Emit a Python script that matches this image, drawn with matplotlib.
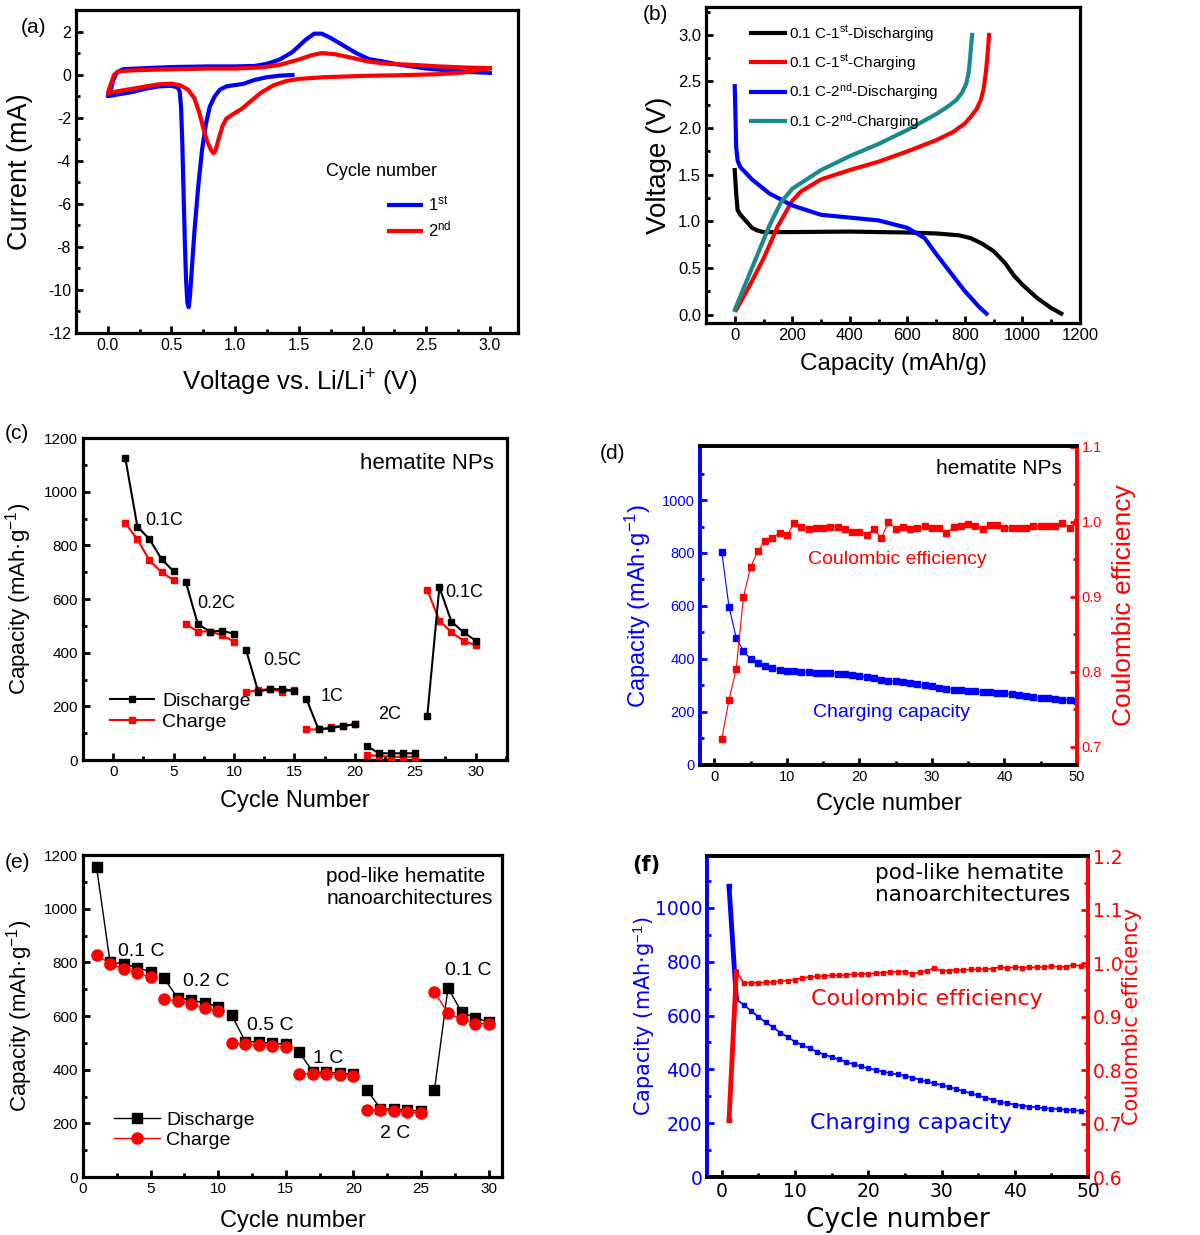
import numpy as np
import matplotlib
matplotlib.use("Agg")
import matplotlib.pyplot as plt
from matplotlib.ticker import MultipleLocator, FormatStrFormatter

plt.rcParams['font.family'] = ['Liberation Sans', 'DejaVu Sans']
plt.rcParams['mathtext.fontset'] = 'custom'
plt.rcParams['mathtext.rm'] = 'Liberation Sans'
plt.rcParams['mathtext.it'] = 'Liberation Sans:italic'
plt.rcParams['mathtext.bf'] = 'Liberation Sans:bold'
plt.rcParams['axes.unicode_minus'] = False

# ---- (a) cyclic voltammetry ----
cv1_v = [1.45, 1.35, 1.25, 1.15, 1.07, 1.02, 0.98, 0.93, 0.88, 0.84, 0.80, 0.77, 0.74, 0.71,
         0.68, 0.66, 0.645, 0.635, 0.625, 0.615, 0.605, 0.595, 0.585, 0.575, 0.565, 0.55, 0.5,
         0.4, 0.3, 0.2, 0.1, 0.0,
         0.02, 0.04, 0.07, 0.12, 0.3, 0.5, 0.8, 1.0, 1.15, 1.25, 1.35, 1.45, 1.55, 1.62, 1.68,
         1.75, 1.85, 1.95, 2.05, 2.15, 2.3, 2.5, 2.7, 2.85, 3.0]
cv1_i = [-0.02, -0.05, -0.12, -0.25, -0.42, -0.47, -0.5, -0.55, -0.7, -1.0, -1.5, -2.3, -3.5, -5.2,
         -7.3, -9.0, -10.3, -10.8, -10.6, -9.6, -7.8, -5.5, -3.2, -1.5, -0.8, -0.6, -0.52,
         -0.55, -0.65, -0.8, -0.9, -1.0,
         -0.8, -0.3, 0.1, 0.25, 0.3, 0.35, 0.38, 0.38, 0.4, 0.5, 0.7, 1.05, 1.6, 1.9, 1.9,
         1.7, 1.35, 1.0, 0.72, 0.62, 0.45, 0.28, 0.18, 0.12, 0.08]
cv2_v = [3.0, 2.8, 2.6, 2.3, 2.0, 1.7, 1.5, 1.4, 1.3, 1.2, 1.12, 1.05, 0.98, 0.93, 0.9, 0.87,
         0.845, 0.83, 0.81, 0.78, 0.75, 0.72, 0.68, 0.63, 0.57, 0.5, 0.4, 0.3, 0.2, 0.1, 0.0,
         0.02, 0.05, 0.09, 0.2, 0.5, 0.8, 1.0, 1.2, 1.35, 1.5, 1.6, 1.68, 1.78, 1.9, 2.05, 2.2,
         2.4, 2.6, 2.8, 3.0]
cv2_i = [0.3, 0.1, 0.02, -0.03, -0.06, -0.12, -0.2, -0.3, -0.5, -0.85, -1.25, -1.6, -1.85, -2.05,
         -2.4, -3.0, -3.55, -3.65, -3.5, -3.1, -2.5, -1.8, -1.1, -0.7, -0.5, -0.42, -0.45, -0.55,
         -0.65, -0.75, -0.85,
         -0.5, 0.0, 0.15, 0.2, 0.25, 0.28, 0.28, 0.33, 0.45, 0.7, 0.9, 1.0, 0.95, 0.8, 0.6, 0.5,
         0.45, 0.38, 0.33, 0.3]

# ---- (b) charge / discharge profiles ----
dis1_c = [0, 5, 10, 20, 40, 60, 80, 100, 200, 400, 600, 700, 780, 820, 860, 900, 940, 970, 1000,
          1050, 1100, 1135]
dis1_v = [1.55, 1.3, 1.12, 1.07, 1.0, 0.93, 0.9, 0.885, 0.885, 0.89, 0.88, 0.87, 0.85, 0.82, 0.76,
          0.68, 0.55, 0.42, 0.32, 0.18, 0.07, 0.01]
chg1_c = [5, 50, 100, 150, 200, 230, 300, 400, 500, 600, 700, 760, 800, 820, 840, 855, 865, 873,
          879, 884]
chg1_v = [0.05, 0.3, 0.6, 0.95, 1.22, 1.32, 1.45, 1.55, 1.64, 1.75, 1.87, 1.96, 2.05, 2.12, 2.2,
          2.3, 2.42, 2.6, 2.8, 3.0]
dis2_c = [0, 2, 5, 10, 20, 60, 120, 200, 300, 400, 500, 600, 660, 700, 750, 800, 850, 875]
dis2_v = [2.45, 2.2, 1.8, 1.65, 1.58, 1.45, 1.3, 1.17, 1.07, 1.04, 1.01, 0.93, 0.82, 0.65, 0.45,
          0.25, 0.08, 0.01]
chg2_c = [0, 40, 80, 120, 160, 200, 250, 300, 400, 500, 600, 700, 740, 770, 790, 805, 813, 818,
          822, 825]
chg2_v = [0.05, 0.35, 0.65, 0.95, 1.2, 1.35, 1.45, 1.55, 1.7, 1.83, 1.98, 2.15, 2.23, 2.3, 2.38,
          2.48, 2.6, 2.75, 2.9, 3.0]
profile_labels = ['0.1 C-1$^{\\rm st}$-Discharging', '0.1 C-1$^{\\rm st}$-Charging',
                  '0.1 C-2$^{\\rm nd}$-Discharging', '0.1 C-2$^{\\rm nd}$-Charging']

# ---- (c) rate capability, hematite NPs ----
cycles30 = np.arange(1, 31)
c_dis = [1125, 870, 823, 749, 703, 665, 507, 479, 482, 470, 410, 255, 264, 264, 259,
         227, 114, 118, 127, 133, 52, 25, 25, 25, 25, 164, 644, 516, 476, 445]
c_chg = [883, 823, 744, 700, 670, 507, 479, 479, 466, 441, 252, 261, 264, 255, 261,
         114, 114, 122, 128, 133, 19, 15, 12, 12, 12, 634, 520, 476, 445, 427]
c_rates = ['0.1C', '0.2C', '0.5C', '1C', '2C', '0.1C']
c_rate_x = [2.65, 6.95, 12.4, 17.2, 21.9, 27.5]
c_rate_y = [894, 585, 372, 235, 171, 626]

# ---- (d) cycling, hematite NPs ----
cycles50 = np.arange(1, 51)
d_cap = [805, 598, 480, 430, 400, 385, 372, 365, 360, 355, 353, 352, 350, 348, 347, 346, 345,
         342, 340, 337, 333, 328, 322, 318, 315, 312, 308, 304, 300, 297, 292, 288, 284, 282,
         280, 278, 276, 274, 272, 270, 267, 264, 260, 257, 254, 251, 249, 247, 245, 240]
d_ce = [0.710, 0.763, 0.804, 0.900, 0.940, 0.961, 0.975, 0.979, 0.985, 0.982, 0.998, 0.993,
        0.991, 0.992, 0.992, 0.993, 0.993, 0.991, 0.987, 0.987, 0.983, 0.990, 0.978, 1.000,
        0.991, 0.993, 0.990, 0.992, 0.994, 0.992, 0.992, 0.985, 0.993, 0.995, 0.997, 0.994,
        0.991, 0.996, 0.996, 0.992, 0.992, 0.992, 0.992, 0.994, 0.995, 0.995, 0.994, 0.998,
        0.992, 1.000]

# ---- (e) rate capability, pod-like hematite ----
e_dis = [1155, 800, 795, 780, 765, 740, 668, 660, 648, 635, 603, 505, 503, 498, 495,
         465, 392, 390, 388, 383, 325, 255, 252, 250, 245, 325, 705, 615, 593, 578]
e_chg = [828, 795, 777, 762, 745, 663, 656, 645, 630, 617, 498, 495, 493, 489, 485,
         383, 385, 383, 382, 378, 248, 248, 247, 243, 238, 690, 610, 588, 572, 572]
e_rates = ['0.1 C', '0.2 C', '0.5 C', '1 C', '2 C', '0.1 C']
e_rate_x = [2.6, 7.4, 12.1, 17.0, 22.0, 26.8]
e_rate_y = [839, 730, 563, 443, 164, 771]

# ---- (f) cycling, pod-like hematite ----
f_cap = [1080, 660, 640, 618, 595, 575, 556, 537, 520, 503, 490, 478, 466, 455, 446, 437, 428,
         419, 411, 404, 398, 392, 386, 381, 376, 369, 362, 355, 348, 342, 335, 327, 319, 311,
         303, 295, 287, 280, 274, 269, 265, 262, 259, 256, 254, 252, 250, 248, 246, 243]
f_ce = [0.706, 0.984, 0.963, 0.963, 0.963, 0.964, 0.965, 0.966, 0.967, 0.969, 0.972, 0.974,
        0.975, 0.976, 0.977, 0.977, 0.978, 0.979, 0.979, 0.980, 0.981, 0.982, 0.983, 0.984,
        0.984, 0.979, 0.983, 0.985, 0.991, 0.985, 0.986, 0.987, 0.987, 0.988, 0.988, 0.989,
        0.989, 0.993, 0.990, 0.993, 0.991, 0.992, 0.992, 0.993, 0.994, 0.993, 0.993, 0.997,
        0.994, 0.993]

BLUE = '#0000ff'
RED = '#ff0000'
TEAL = '#1b8a8a'


def frame(ax, lw=2.3, size=11, fam=None):
    for s in ax.spines.values():
        s.set_linewidth(lw)
    ax.tick_params(which='both', direction='in', width=2)
    ax.tick_params(which='major', length=5, labelsize=size)
    ax.tick_params(which='minor', length=3)
    if fam:
        ax.tick_params(labelfontfamily=fam)


fig = plt.figure(figsize=(12, 12.35), dpi=100)

# (a)
ax = fig.add_axes([0.0633, 0.7304, 0.3683, 0.2615])
ax.plot(cv1_v, cv1_i, color=BLUE, lw=3, label='1$^{\\rm st}$', solid_joinstyle='round')
ax.plot(cv2_v, cv2_i, color=RED, lw=3, label='2$^{\\rm nd}$', solid_joinstyle='round')
ax.set_xlim(-0.25, 3.22)
ax.set_ylim(-12, 3)
ax.xaxis.set_major_locator(MultipleLocator(0.5))
ax.xaxis.set_minor_locator(MultipleLocator(0.25))
ax.xaxis.set_major_formatter(FormatStrFormatter('%.1f'))
ax.yaxis.set_major_locator(MultipleLocator(2))
ax.yaxis.set_minor_locator(MultipleLocator(1))
frame(ax, size=11.5)
ax.set_xlabel('Voltage vs. Li/Li$^{+}$ (V)', fontsize=18.5)
ax.set_ylabel('Current (mA)', fontsize=19.5)
ax.xaxis.set_label_coords(0.505, -0.108)
ax.yaxis.set_label_coords(-0.097, 0.5)
ax.text(0.692, 0.50, 'Cycle number', transform=ax.transAxes, fontsize=13,
        ha='center', va='center')
ax.legend(loc='upper left', bbox_to_anchor=(0.69, 0.455), frameon=False, fontsize=12,
          handlelength=1.9, handletextpad=0.4, labelspacing=0.35, borderpad=0)
fig.text(0.017, 0.978, '(a)', fontsize=15, va='center')

# (b)
ax = fig.add_axes([0.5883, 0.7385, 0.3117, 0.2559])
ax.plot(dis1_c, dis1_v, color='black', lw=3, label=profile_labels[0])
ax.plot(chg1_c, chg1_v, color=RED, lw=3, label=profile_labels[1])
ax.plot(dis2_c, dis2_v, color=BLUE, lw=3, label=profile_labels[2])
ax.plot(chg2_c, chg2_v, color=TEAL, lw=3, label=profile_labels[3])
ax.set_xlim(-100, 1200)
ax.set_ylim(-0.09, 3.3)
ax.xaxis.set_major_locator(MultipleLocator(200))
ax.xaxis.set_minor_locator(MultipleLocator(100))
ax.yaxis.set_major_locator(MultipleLocator(0.5))
ax.yaxis.set_minor_locator(MultipleLocator(0.25))
ax.yaxis.set_major_formatter(FormatStrFormatter('%.1f'))
frame(ax, size=12)
ax.set_xlabel('Capacity (mAh/g)', fontsize=17.5)
ax.set_ylabel('Voltage (V)', fontsize=20)
ax.xaxis.set_label_coords(0.5, -0.095)
ax.yaxis.set_label_coords(-0.091, 0.5)
ax.legend(loc='upper left', bbox_to_anchor=(0.1, 0.972), frameon=False, fontsize=11,
          handlelength=2.2, handletextpad=0.3, labelspacing=0.55, borderpad=0)
fig.text(0.536, 0.988, '(b)', fontsize=15, va='center')


def rate_panel(ax, dis, chg, dis_kw, chg_kw, chg_on_top):
    hd = hc = None
    for g in range(6):
        sl = slice(5 * g, 5 * g + 5)
        z_d, z_c = (3, 4) if chg_on_top else (4, 3)
        ld, = ax.plot(cycles30[sl], dis[sl], zorder=z_d, **dis_kw)
        lc, = ax.plot(cycles30[sl], chg[sl], zorder=z_c, **chg_kw)
        hd = hd or ld
        hc = hc or lc
    return hd, hc


# (c)
ax = fig.add_axes([0.0692, 0.3846, 0.3533, 0.2607])
hd, hc = rate_panel(ax, c_dis, c_chg,
                    dict(color='black', marker='s', ms=5, lw=1.5),
                    dict(color=RED, marker='s', ms=5, lw=1.5), False)
ax.set_xlim(-2.5, 32.6)
ax.set_ylim(0, 1200)
ax.xaxis.set_major_locator(MultipleLocator(5))
ax.xaxis.set_minor_locator(MultipleLocator(2.5))
ax.yaxis.set_major_locator(MultipleLocator(200))
ax.yaxis.set_minor_locator(MultipleLocator(100))
frame(ax)
for t, x, y in zip(c_rates, c_rate_x, c_rate_y):
    ax.text(x, y, t, fontsize=13, va='center')
ax.text(0.97, 0.92, 'hematite NPs', transform=ax.transAxes, fontsize=16, ha='right', va='center')
ax.set_xlabel('Cycle Number', fontsize=17)
ax.set_ylabel('Capacity (mAh·g$^{-1}$)', fontsize=16)
ax.xaxis.set_label_coords(0.5, -0.093)
ax.yaxis.set_label_coords(-0.116, 0.5)
ax.legend([hd, hc], ['Discharge', 'Charge'], loc='upper left', bbox_to_anchor=(0.04, 0.24),
          frameon=False, fontsize=14, handlelength=2.3, handletextpad=0.4,
          labelspacing=0.15, borderpad=0)
fig.text(0.004, 0.649, '(c)', fontsize=15, va='center')


def cycling_panel(ax, fam=None, size=11):
    ax2 = ax.twinx()
    for a in (ax, ax2):
        for s in a.spines.values():
            s.set_linewidth(2.6)
    ax.spines['left'].set_color(BLUE)
    ax2.spines['left'].set_color(BLUE)
    ax.spines['right'].set_color(RED)
    ax2.spines['right'].set_color(RED)
    ax.tick_params(which='both', direction='in', width=2)
    ax.tick_params(which='major', length=5, labelsize=size)
    ax.tick_params(which='minor', length=3)
    ax.tick_params(axis='y', which='both', colors=BLUE)
    ax2.tick_params(which='both', direction='in', width=2, colors=RED)
    ax2.tick_params(which='major', length=5, labelsize=size)
    ax2.tick_params(which='minor', length=3)
    if fam:
        ax.tick_params(labelfontfamily=fam)
        ax2.tick_params(labelfontfamily=fam)
    return ax2


# (d)
ax = fig.add_axes([0.5833, 0.3806, 0.3142, 0.2583])
ax2 = cycling_panel(ax, size=10.5)
ax.plot(cycles50, d_cap, color=BLUE, marker='s', ms=4.5, lw=0.8)
ax2.plot(cycles50, d_ce, color=RED, marker='s', ms=4.5, lw=0.8)
ax.set_xlim(-2, 50)
ax.set_ylim(0, 1204)
ax2.set_ylim(0.676, 1.101)
ax.xaxis.set_major_locator(MultipleLocator(10))
ax.xaxis.set_minor_locator(MultipleLocator(5))
ax.set_yticks(np.arange(0, 1001, 200))
ax.set_yticks(np.arange(100, 1101, 100), minor=True)
ax2.yaxis.set_major_locator(MultipleLocator(0.1))
ax2.yaxis.set_minor_locator(MultipleLocator(0.05))
ax2.yaxis.set_major_formatter(FormatStrFormatter('%.1f'))
ax.set_xlabel('Cycle number', fontsize=17)
ax.set_ylabel('Capacity (mAh·g$^{-1}$)', fontsize=17, color=BLUE)
ax2.set_ylabel('Coulombic efficiency', fontsize=19, color=RED)
ax.xaxis.set_label_coords(0.5, -0.088)
ax.yaxis.set_label_coords(-0.125, 0.5)
ax2.yaxis.set_label_coords(1.093, 0.5)
ax.text(0.96, 0.928, 'hematite NPs', transform=ax.transAxes, fontsize=15, ha='right', va='center')
ax.text(0.523, 0.643, 'Coulombic efficiency', transform=ax.transAxes, fontsize=14,
        color=RED, ha='center', va='center')
ax.text(0.509, 0.166, 'Charging capacity', transform=ax.transAxes, fontsize=14,
        color=BLUE, ha='center', va='center')
fig.text(0.5, 0.633, '(d)', fontsize=15, va='center')

# (e)
ax = fig.add_axes([0.0692, 0.04696, 0.3492, 0.2607])
hd, hc = rate_panel(ax, e_dis, e_chg,
                    dict(color='black', marker='s', ms=7, lw=1),
                    dict(color=RED, marker='o', ms=8, lw=1), True)
ax.set_xlim(0, 31)
ax.set_ylim(0, 1200)
ax.xaxis.set_major_locator(MultipleLocator(5))
ax.xaxis.set_minor_locator(MultipleLocator(2.5))
ax.yaxis.set_major_locator(MultipleLocator(200))
ax.yaxis.set_minor_locator(MultipleLocator(100))
frame(ax)
for t, x, y in zip(e_rates, e_rate_x, e_rate_y):
    ax.text(x, y, t, fontsize=14, va='center')
ax.text(0.58, 0.962, 'pod-like hematite\nnanoarchitectures', transform=ax.transAxes,
        fontsize=15, ha='left', va='top', linespacing=1.2)
ax.set_xlabel('Cycle number', fontsize=17)
ax.set_ylabel('Capacity (mAh·g$^{-1}$)', fontsize=16)
ax.xaxis.set_label_coords(0.5, -0.102)
ax.yaxis.set_label_coords(-0.115, 0.5)
ax.legend([hd, hc], ['Discharge', 'Charge'], loc='upper left', bbox_to_anchor=(0.05, 0.235),
          frameon=False, fontsize=14, handlelength=2.4, handletextpad=0.3,
          labelspacing=0.15, borderpad=0)
fig.text(0.004, 0.302, '(e)', fontsize=15, va='center')

# (f)
DV = 'DejaVu Sans'
ax = fig.add_axes([0.5892, 0.04696, 0.3175, 0.2599])
ax2 = cycling_panel(ax, fam=DV, size=13.5)
ax.plot(cycles50, f_cap, color=BLUE, marker='s', ms=2.5, lw=1.2)
ax.plot(cycles50[:2], f_cap[:2], color=BLUE, lw=3.5)
ax2.plot(cycles50, f_ce, color=RED, marker='s', ms=2.5, lw=1.2)
ax2.plot(cycles50[:2], f_ce[:2], color=RED, lw=3.5)
ax.set_xlim(-2, 50)
ax.set_ylim(0, 1193)
ax2.set_ylim(0.6, 1.2)
ax.xaxis.set_major_locator(MultipleLocator(10))
ax.xaxis.set_minor_locator(MultipleLocator(5))
ax.set_yticks(np.arange(0, 1001, 200))
ax.set_yticks(np.arange(100, 1101, 100), minor=True)
ax2.yaxis.set_major_locator(MultipleLocator(0.1))
ax2.yaxis.set_minor_locator(MultipleLocator(0.05))
ax2.yaxis.set_major_formatter(FormatStrFormatter('%.1f'))
ax.set_xlabel('Cycle number', fontsize=19, fontfamily=DV)
ax.set_ylabel('Capacity (mAh·g$^{-1}$)', fontsize=15, color=BLUE, fontfamily=DV)
ax2.set_ylabel('Coulombic efficiency', fontsize=15, color=RED, fontfamily=DV)
ax.xaxis.set_label_coords(0.5, -0.093)
ax.yaxis.set_label_coords(-0.131, 0.5)
ax2.yaxis.set_label_coords(1.089, 0.5)
ax.text(0.441, 0.947, 'pod-like hematite', transform=ax.transAxes, fontsize=15.5,
        ha='left', va='center', fontfamily=DV)
ax.text(0.441, 0.879, 'nanoarchitectures', transform=ax.transAxes, fontsize=15.5,
        ha='left', va='center', fontfamily=DV)
ax.text(0.577, 0.555, 'Coulombic efficiency', transform=ax.transAxes, fontsize=16,
        color=RED, ha='center', va='center', fontfamily=DV)
ax.text(0.535, 0.168, 'Charging capacity', transform=ax.transAxes, fontsize=16,
        color=BLUE, ha='center', va='center', fontfamily=DV)
fig.text(0.527, 0.3, '(f)', fontsize=15, va='center', fontfamily=DV, fontweight='bold')

fig.savefig('out.png', dpi=100)
